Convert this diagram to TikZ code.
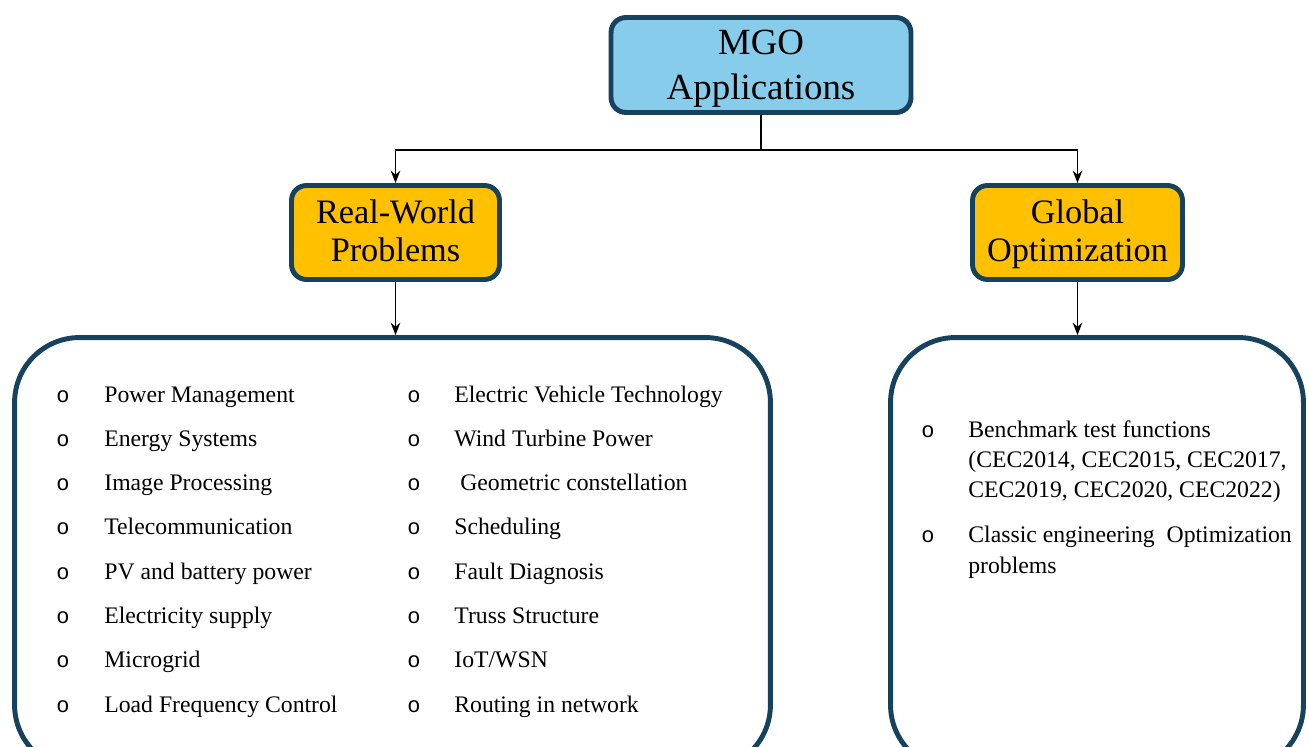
\documentclass[tikz,border=0pt]{standalone}
\usepackage{fontspec}
\setmainfont{Liberation Serif}
\newfontfamily\bulletfont{Liberation Mono}
\usetikzlibrary{arrows.meta}
\definecolor{edgeblue}{HTML}{17425E}
\definecolor{skyfill}{HTML}{87CDEB}
\definecolor{goldfill}{HTML}{FFC000}
\newcommand{\topstrut}[1]{\rule{0pt}{#1}}
\newcommand{\botstrut}[1]{\rule[-#1]{0pt}{0pt}}
\begin{document}
\begin{tikzpicture}[x=0.02cm,y=-0.02cm,
  hdr/.style={draw=edgeblue, line width=2.8pt, rounded corners=8.5pt, align=center,
    inner sep=0pt},
  topbox/.style={hdr, fill=skyfill, minimum width=6cm, minimum height=1.9cm,
    font=\fontsize{21}{25.5}\selectfont},
  subbox/.style={hdr, fill=goldfill, minimum height=1.88cm,
    font=\fontsize{19.5}{21.5}\selectfont},
  bigbox/.style={draw=edgeblue, line width=2.8pt, rounded corners=37pt, minimum height=8.65cm, inner sep=0pt},
  conn/.style={line width=1.1pt, black},
  arr/.style={conn, -{Stealth[length=7pt,width=5.4pt]}},
  item/.style={anchor=base west, inner sep=0pt, font=\fontsize{13.5}{16}\selectfont},
  bul/.style={anchor=base, inner sep=0pt, font=\bulletfont\fontsize{12.5}{14}\selectfont}
]
\useasboundingbox (0,0) rectangle (1309,747);
\clip (0,0) rectangle (1309,747);

\node[topbox] (mgo) at (761,65) {\topstrut{19pt}MGO\\Applications\botstrut{5.1pt}};
\node[subbox, minimum width=4.16cm] (rw) at (395.5,232.5) {\topstrut{16.5pt}Real-World\\Problems\botstrut{4.7pt}};
\node[subbox, minimum width=4.2cm] (go) at (1077.5,232.5) {\topstrut{16.5pt}Global\\Optimization\botstrut{4.7pt}};

\node[bigbox, minimum width=15.12cm] (left) at (392.5,553.75) {};
\node[bigbox, minimum width=8.26cm] (right) at (1097,553.75) {};

\coordinate (split) at (761,150);
\draw[conn] (mgo.south) -- (split);
\draw[arr] (split) -| (rw.north);
\draw[arr] (split) -| (go.north);
\draw[arr] (rw.south) -- (rw.south |- left.north);
\draw[arr] (go.south) -- (go.south |- right.north);

% left column
\foreach \t [count=\i from 0] in {Power Management, Energy Systems, Image Processing, Telecommunication, PV and battery power, Electricity supply, Microgrid, Load Frequency Control}{
  \node[bul] (lb\i) at (63,{402+44.3*\i}) {o};
  \node[item] (lt\i) at (104,{402+44.3*\i}) {\t};
}
% middle column
\foreach \t [count=\i from 0] in {Electric Vehicle Technology, Wind Turbine Power, {\ Geometric constellation}, Scheduling, Fault Diagnosis, Truss Structure, IoT/WSN, Routing in network}{
  \node[bul] (mb\i) at (414,{402+44.3*\i}) {o};
  \node[item] (mt\i) at (454,{402+44.3*\i}) {\t};
}
% right box
\node[bul] (rb1) at (928,437) {o};
\node[item] (r1) at (968,437) {Benchmark test functions};
\node[item] (r2) at (968,467) {(CEC2014, CEC2015, CEC2017,};
\node[item] (r3) at (968,497) {CEC2019, CEC2020, CEC2022)};
\node[bul] (rb2) at (928,542) {o};
\node[item] (r4) at (968,542) {Classic engineering\ \ Optimization};
\node[item] (r5) at (968,573) {problems};
\end{tikzpicture}
\end{document}
